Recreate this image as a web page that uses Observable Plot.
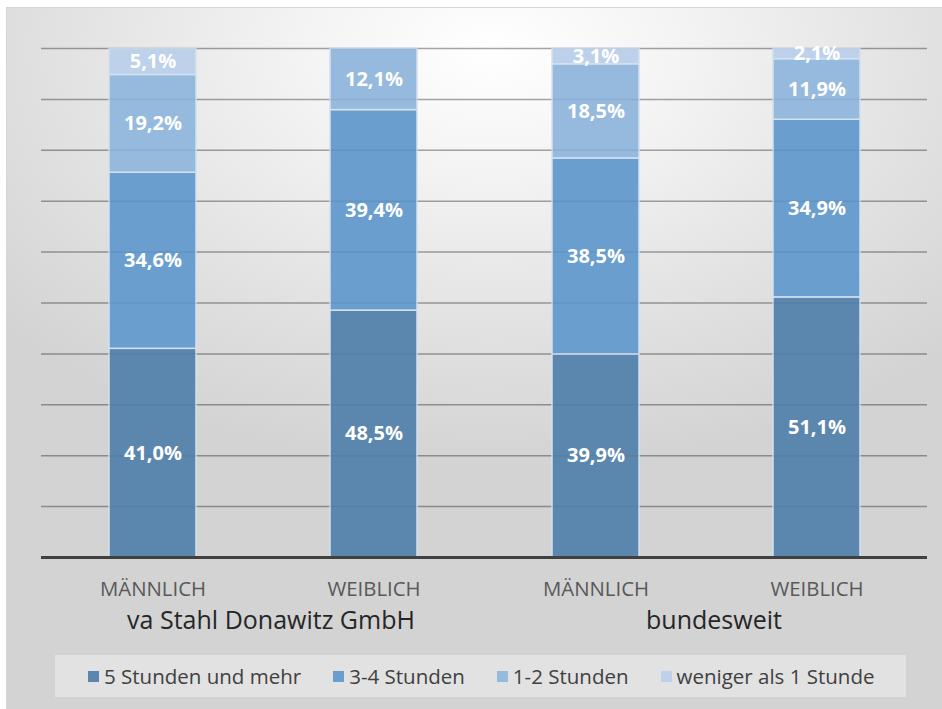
<!DOCTYPE html>
<html>
<head>
<meta charset="utf-8">
<script src="https://cdn.jsdelivr.net/npm/d3@7"></script>
<script src="https://cdn.jsdelivr.net/npm/@observablehq/plot@0.6"></script>
<style>
  body { margin: 0; background: #ffffff; }
  #frame {
    position: absolute; left: 7px; top: 8px; width: 935px; height: 701px; overflow: hidden;
    background: radial-gradient(ellipse 70% 60% at 52% 6%, #ffffff 0%, #f3f3f3 30%, #e0e0e0 70%, #d3d3d3 100%);
    box-shadow: 0 0 0 1px #d6d6d6;
    font-family: "Open Sans", sans-serif;
  }
  #legend {
    margin-top: 7px; margin-left: 48px; width: 818px; height: 42px; padding-left: 33px;
    background: rgba(255,255,255,0.35);
    display: flex; align-items: center; gap: 32px;
    font-size: 20.5px; color: #404040;
  }
  #legend .item { display: flex; align-items: center; white-space: nowrap; }
  #legend .sw { width: 11px; height: 11px; margin-right: 5px; display: inline-block; }
</style>
</head>
<body>
<div id="frame"></div>
<script>
// ---- data ----
const groups = ["va Stahl Donawitz GmbH", "bundesweit"];
const genders = ["MÄNNLICH", "WEIBLICH"];
const barGroup = ["va Stahl Donawitz GmbH", "va Stahl Donawitz GmbH", "bundesweit", "bundesweit"];
const barGender = ["MÄNNLICH", "WEIBLICH", "MÄNNLICH", "WEIBLICH"];
const categories = ["5 Stunden und mehr", "3-4 Stunden", "1-2 Stunden", "weniger als 1 Stunde"];
const colors = ["#5b87ae", "#699ecf", "#96b9de", "#bed1ea"];
const values5plus = [41.0, 48.5, 39.9, 51.1];
const values34 = [34.6, 39.4, 38.5, 34.9];
const values12 = [19.2, 12.1, 18.5, 11.9];
const valuesLt1 = [5.1, null, 3.1, 2.1];
const yTicks = [10, 20, 30, 40, 50, 60, 70, 80, 90, 100];

const seriesValues = [values5plus, values34, values12, valuesLt1];
const rows = [];
barGroup.forEach((g, i) => {
  seriesValues.forEach((vals, k) => {
    if (vals[i] != null) rows.push({group: g, gender: barGender[i], cat: categories[k], value: vals[i]});
  });
});
const fmt = v => v.toFixed(1).replace(".", ",") + "%";

const plot = Plot.plot({
  width: 935, height: 640,
  marginLeft: 33, marginRight: 15, marginTop: 40, marginBottom: 91,
  style: {background: "transparent", fontFamily: "Open Sans, sans-serif", overflow: "visible"},
  fx: {domain: groups, padding: 0, label: null},
  x: {domain: genders, paddingInner: 0.608, paddingOuter: 0.304, label: null},
  y: {domain: [0, 100], axis: null},
  color: {domain: categories, range: colors},
  marks: [
    Plot.gridY(yTicks, {stroke: "#000", strokeOpacity: 0.3, strokeWidth: 1.5}),
    Plot.barY(rows, {fx: "group", x: "gender", y: "value", fill: "cat", z: "cat", order: categories,
      stroke: "#d3e1f0", strokeWidth: 1.5}),
    Plot.gridY(yTicks, {stroke: "#000", strokeOpacity: 0.06, strokeWidth: 1.5}),
    Plot.text(rows, Plot.stackY({fx: "group", x: "gender", y: "value", z: "cat", order: categories,
      text: d => fmt(d.value), fill: "white", fontSize: 20, fontWeight: 700})),
    Plot.ruleY([0], {stroke: "#404040", strokeWidth: 3}),
    Plot.axisX({anchor: "bottom", tickSize: 0, tickPadding: 24, fontSize: 20.4, fill: "#595959", label: null}),
    Plot.axisFx({anchor: "bottom", tickSize: 0, tickPadding: 54, fontSize: 25, dx: 8, fill: "#262626", label: null})
  ]
});

const frame = document.getElementById("frame");
frame.appendChild(plot);

const legend = document.createElement("div");
legend.id = "legend";
categories.forEach((c, i) => {
  const item = document.createElement("span");
  item.className = "item";
  const sw = document.createElement("span");
  sw.className = "sw";
  sw.style.background = colors[i];
  item.appendChild(sw);
  item.appendChild(document.createTextNode(c));
  legend.appendChild(item);
});
frame.appendChild(legend);
</script>
</body>
</html>
